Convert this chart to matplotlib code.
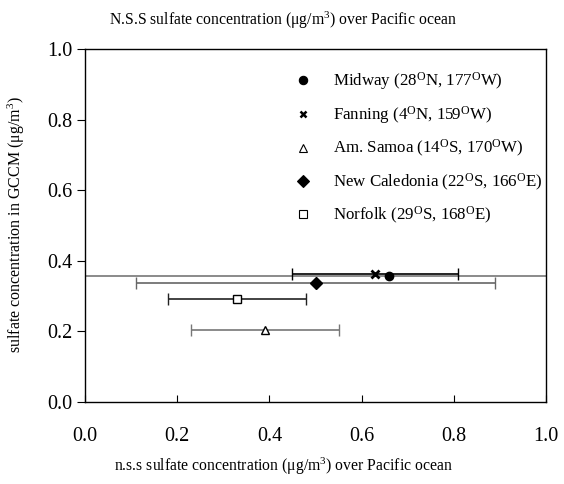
import matplotlib
matplotlib.use("Agg")
import matplotlib.pyplot as plt
from matplotlib.lines import Line2D
from matplotlib.ticker import FormatStrFormatter

plt.rcParams['font.family'] = ['Liberation Serif', 'DejaVu Serif']
plt.rcParams['mathtext.fontset'] = 'custom'
plt.rcParams['mathtext.rm'] = 'Liberation Serif'
plt.rcParams['mathtext.it'] = 'Liberation Serif:italic'

# ---------- data ----------
sites = ['Midway (28$^{\\mathrm{O}}$N, 177$^{\\mathrm{O}}$W)',
         'Fanning (4$^{\\mathrm{O}}$N, 159$^{\\mathrm{O}}$W)',
         'Am. Samoa (14$^{\\mathrm{O}}$S, 170$^{\\mathrm{O}}$W)',
         'New Caledonia (22$^{\\mathrm{O}}$S, 166$^{\\mathrm{O}}$E)',
         'Norfolk (29$^{\\mathrm{O}}$S, 168$^{\\mathrm{O}}$E)']
obs = [0.66, 0.63, 0.39, 0.50, 0.33]        # observed n.s.s sulfate
obs_err = [0.75, 0.18, 0.16, 0.39, 0.15]    # x error (Midway bar spans the whole axis)
gccm = [0.358, 0.362, 0.203, 0.336, 0.293]  # GCCM sulfate

markers = ['o', 'x', '^', 'D', 's']
faces = ['black', 'black', 'white', 'black', 'white']
bar_colors = ['#777777', 'black', '#777777', '#666666', '#222222']

fig = plt.figure(figsize=(5.64, 4.84), dpi=100)
ax = fig.add_axes([85 / 564, 1 - 402 / 484, 461 / 564, 353 / 484])

for i in range(len(sites)):
    ax.errorbar(obs[i], gccm[i], xerr=obs_err[i], fmt='none',
                ecolor=bar_colors[i], elinewidth=1.2, capsize=4.5, capthick=1.0,
                zorder=2)
    ax.plot(obs[i], gccm[i], linestyle='none', marker=markers[i],
            markersize=6 if markers[i] != 'x' else 5.5,
            markerfacecolor=faces[i], markeredgecolor='black',
            markeredgewidth=1.0 if markers[i] != 'x' else 2.0, zorder=3)

handles = [Line2D([], [], linestyle='none', marker=m, markersize=6 if m != 'x' else 5,
                  markerfacecolor=f, markeredgecolor='black',
                  markeredgewidth=0.8 if m != 'x' else 1.8)
           for m, f in zip(markers, faces)]
ax.legend(handles, sites, loc='upper left', bbox_to_anchor=(0.455, 0.94),
          frameon=False, fontsize=12.2, handlelength=1.0, handletextpad=1.25,
          labelspacing=0.72, borderaxespad=0, borderpad=0)

ax.set_xlim(0, 1.0)
ax.set_ylim(0, 1.0)
ax.set_xticks([0.0, 0.2, 0.4, 0.6, 0.8, 1.0])
ax.set_yticks([0.0, 0.2, 0.4, 0.6, 0.8, 1.0])
ax.xaxis.set_major_formatter(FormatStrFormatter('%.1f'))
ax.yaxis.set_major_formatter(FormatStrFormatter('%.1f'))
ax.tick_params(axis='x', direction='in', length=5, labelsize=14.5, pad=18)
ax.tick_params(axis='y', direction='out', length=6, labelsize=14.5, pad=3)
for s in ax.spines.values():
    s.set_linewidth(1.0)

fig.text(283 / 564, 1 - 20 / 484,
         'N.S.S sulfate concentration ($\\mathrm{\\mu}$g/m$^{3}$) over Pacific ocean',
         ha='center', va='center', fontsize=11.3)
fig.text(283 / 564, 1 - 466 / 484,
         'n.s.s sulfate concentration ($\\mathrm{\\mu}$g/m$^{3}$) over Pacific ocean',
         ha='center', va='center', fontsize=11.3)
fig.text(16 / 564, 1 - 225 / 484,
         'sulfate concentration in GCCM ($\\mathrm{\\mu}$g/m$^{3}$)',
         ha='center', va='center', rotation=90, fontsize=11.5)

fig.savefig('out.png', dpi=100, facecolor='white')
